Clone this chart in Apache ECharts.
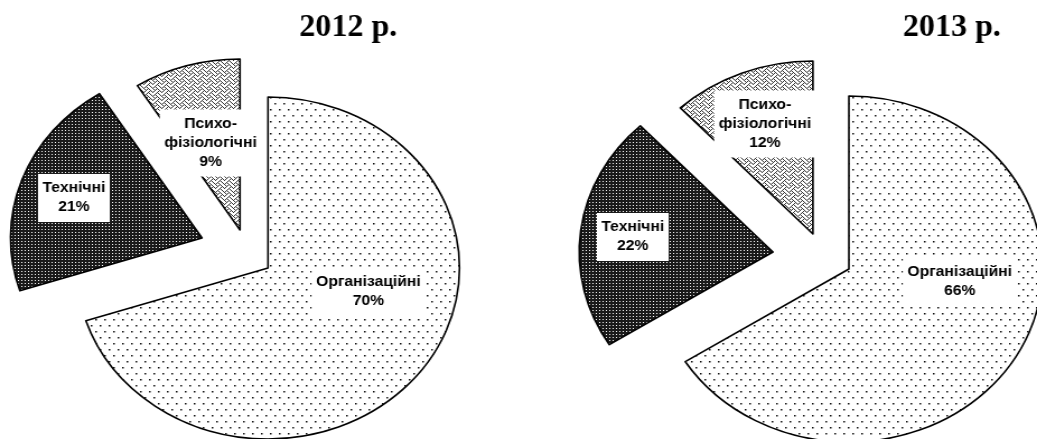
<!DOCTYPE html>
<html><head><meta charset="utf-8">
<script src="https://cdn.jsdelivr.net/npm/echarts@6/dist/echarts.min.js"></script>
<style>
html,body{margin:0;padding:0;background:#fff;overflow:hidden;}
#wrap{width:1037px;height:439px;overflow:hidden;position:relative;}
#chart{width:926px;height:439px;transform:scale(1.1199,1);transform-origin:0 0;}
</style></head><body><div id="wrap"><div id="chart"></div></div>
<script>
// ---- data ----
const years = ['2012 р.', '2013 р.'];
const categories = ['Організаційні', 'Технічні', 'Психо-\nфізіологічні'];
const values2012 = [70, 21, 9];
const values2013 = [66, 22, 12];

// ---- layout (unscaled px; the whole canvas is stretched horizontally by SX) ----
const SX = 1.1199;
const layout = [
  { title: [311, 28], r: 171,
    corners: [[239.3, 268], [180.4, 238], [214.3, 230]],
    labels: [[329, 292], [66, 198], [188, 143]] },
  { title: [850, 28], r: 173,
    corners: [[758, 269], [690.2, 252], [725.9, 234]],
    labels: [[857, 282], [565, 237], [683, 124]] }
];

// ---- patterns ----
function tile(w, h, bg, fg, pts, size) {
  const c = document.createElement('canvas');
  c.width = w; c.height = h;
  const g = c.getContext('2d');
  g.fillStyle = bg; g.fillRect(0, 0, w, h);
  g.fillStyle = fg;
  pts.forEach(p => g.fillRect(p[0], p[1], size || 1, size || 1));
  return c;
}
function weave() {
  const rows = [0x88, 0x54, 0x22, 0x45, 0x88, 0x14, 0x22, 0x51];
  const pts = [];
  rows.forEach((b, y) => { for (let x = 0; x < 8; x++) if (b & (0x80 >> x)) pts.push([x, y]); });
  return tile(8, 8, '#ffffff', '#333333', pts, 1);
}
const fills = [
  { image: tile(8, 12, '#ffffff', '#111111', [[1, 1], [5, 7]], 1.5), repeat: 'repeat' },
  { image: tile(3, 3, '#1a1a1a', '#ffffff', [[1, 1]], 1), repeat: 'repeat' },
  { image: weave(), repeat: 'repeat' }
];

const dataSets = [values2012, values2013];
const series = [];
const graphics = [];
const labelPos = {};
dataSets.forEach((vals, k) => {
  const L = layout[k];
  graphics.push({ type: 'text', x: L.title[0], y: L.title[1], scaleX: 1 / SX,
    style: { text: years[k], align: 'center', verticalAlign: 'middle',
      fontFamily: 'Liberation Serif', fontWeight: 'bold', fontSize: 32, fill: '#000' } });
  for (let i = 0; i < vals.length; i++) {
    const sIdx = series.length;
    labelPos[sIdx] = L.labels[i];
    series.push({
      type: 'pie', silent: true, animation: false,
      center: L.corners[i], radius: L.r, startAngle: 90, clockwise: true,
      avoidLabelOverlap: false, minAngle: 0,
      labelLine: { show: false },
      data: vals.map((v, j) => j === i ? {
        name: categories[j], value: v,
        itemStyle: { color: fills[j], borderColor: '#000', borderWidth: 1.6 },
        label: { show: true }
      } : {
        name: categories[j], value: v,
        itemStyle: { color: 'rgba(0,0,0,0)', borderWidth: 0 },
        label: { show: false }
      }),
      label: {
        position: 'inside',
        formatter: '{b}\n{c}%',
        fontFamily: 'Liberation Sans',
        fontWeight: 'bold', fontSize: 14, lineHeight: 19,
        color: '#000', backgroundColor: '#fff', padding: [5, 4, 5, 4],
        align: 'center'
      },
      labelLayout: function (p) {
        const pos = labelPos[p.seriesIndex];
        return { x: pos[0], y: pos[1], align: 'center', verticalAlign: 'middle' };
      }
    });
  }
});

const chart = echarts.init(document.getElementById('chart'), null, { renderer: 'canvas' });
chart.setOption({ animation: false, backgroundColor: '#fff', series: series, graphic: graphics });
</script></body></html>
